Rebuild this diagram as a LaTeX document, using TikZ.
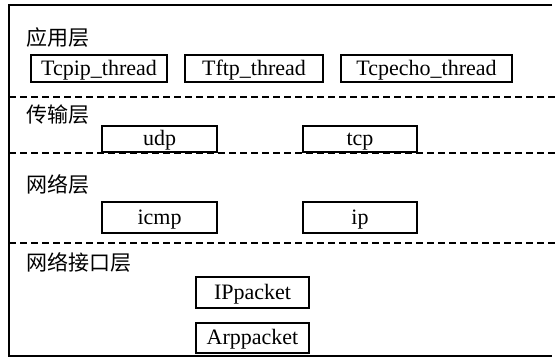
\documentclass[tikz,border=0pt]{standalone}
\usepackage{fontspec}
\setmainfont{Liberation Serif}
\newfontfamily\cjk{Noto Sans CJK SC}
\begin{document}
\begin{tikzpicture}[x=1pt,y=-1pt,
  every node/.style={inner sep=0pt, font=\fontsize{22}{24}\selectfont},
  module/.style={draw, line width=1.5pt, text height=16.25pt, text depth=3.25pt},
  layername/.style={anchor=west, font=\cjk\fontsize{21}{24}\selectfont},
  frameline/.style={line width=1.6pt},
  sepline/.style={line width=1.5pt, dash pattern=on 7pt off 4pt}]
\useasboundingbox (0,0) rectangle (555,364);

% outer frame (open on the right)
\coordinate (tr) at (552,5);
\coordinate (tl) at (9,5);
\coordinate (bl) at (9,356);
\coordinate (br) at (552,356);
\draw[frameline] (tr) -- (tl) -- (bl) -- (br);

% layer separators
\foreach \y/\n in {97/s1,153/s2,243/s3}{
  \coordinate (\n l) at (9,\y);
  \coordinate (\n r) at (555,\y);
  \draw[sepline] (\n l) -- (\n r);
}

% application layer
\node[layername] (app) at (26,38) {应用层};
\node[module, minimum width=136pt, minimum height=27pt] (tcpip) at (99,68.5) {Tcpip\_thread};
\node[module, minimum width=138pt, minimum height=27pt] (tftp) at (254,68.5) {Tftp\_thread};
\node[module, minimum width=171pt, minimum height=27pt] (tcpecho) at (426.5,68.5) {Tcpecho\_thread};

% transport layer
\node[layername] (trans) at (26,115) {传输层};
\node[module, minimum width=115pt, minimum height=26pt] (udp) at (159.5,139) {udp};
\node[module, minimum width=114pt, minimum height=26pt] (tcp) at (360,139) {tcp};

% network layer
\node[layername] (net) at (26,184) {网络层};
\node[module, minimum width=115pt, minimum height=31pt] (icmp) at (159.5,217.5) {icmp};
\node[module, minimum width=114pt, minimum height=31pt] (ip) at (360,217.5) {ip};

% network interface layer
\node[layername] (netif) at (26,262) {网络接口层};
\node[module, minimum width=113pt, minimum height=31pt] (ippkt) at (252.5,292.5) {IPpacket};
\node[module, minimum width=113pt, minimum height=30pt] (arppkt) at (252.5,338) {Arppacket};
\end{tikzpicture}
\end{document}
